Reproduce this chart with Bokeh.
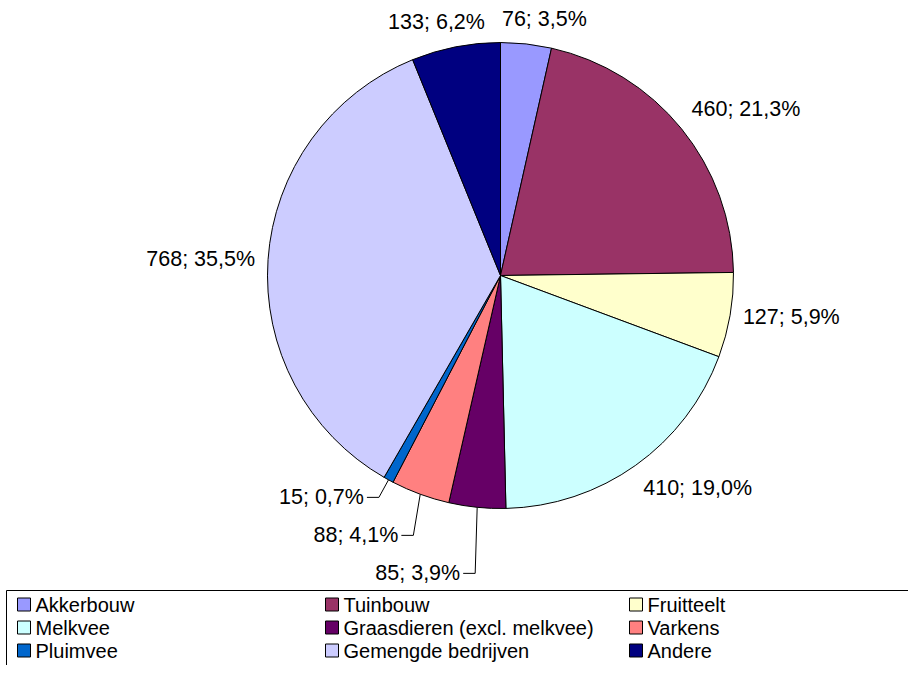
import math
from bokeh.plotting import figure
from bokeh.models import Range1d
from bokeh.core.properties import value
from bokeh.embed import file_html
from bokeh.resources import INLINE

# ---------------- data ----------------
categories = ["Akkerbouw", "Tuinbouw", "Fruitteelt", "Melkvee",
              "Graasdieren (excl. melkvee)", "Varkens", "Pluimvee",
              "Gemengde bedrijven", "Andere"]
counts = [76, 460, 127, 410, 85, 88, 15, 768, 133]
colors = ["#9999FF", "#993366", "#FFFFCC", "#CCFFFF", "#660066",
          "#FF8080", "#0066CC", "#CCCCFF", "#000080"]

# ---------------- layout ----------------
W, H = 908, 665
FONT = "Liberation Sans"
LABEL_SIZE = 21.5
LEGEND_SIZE = 20
CX, CY, R = 500, 275, 233          # pie centre / radius, canvas pixels


def Y(py):                          # canvas pixel (down) -> data y (up)
    return H - py


p = figure(width=W, height=H, x_range=Range1d(0, W), y_range=Range1d(0, H),
           output_backend="svg", toolbar_location=None, min_border=0,
           x_axis_location=None, y_axis_location=None)
p.xgrid.visible = False
p.ygrid.visible = False
p.outline_line_color = None
p.background_fill_color = "white"
p.border_fill_color = "white"

# ---------------- legend box (drawn first) ----------------
BOX_TOP = 590
p.quad(left=[6], right=[W + 60], top=[Y(BOX_TOP)], bottom=[Y(H + 60)],
       fill_color="white", line_color="black", line_width=1)

# ---------------- pie ----------------
total = float(sum(counts))
starts, ends, mids = [], [], []
cum = 0.0
for v in counts:
    f0 = cum / total
    f1 = (cum + v) / total
    starts.append(math.pi / 2 - 2 * math.pi * f0)
    ends.append(math.pi / 2 - 2 * math.pi * f1)
    mids.append(2 * math.pi * (f0 + f1) / 2)   # clockwise from top
    cum += v

p.wedge(x=[CX] * len(counts), y=[Y(CY)] * len(counts), radius=R,
        start_angle=starts, end_angle=ends, direction="clock",
        fill_color=colors, line_color="black", line_width=1)

# ---------------- data labels ----------------
char_w = {d: 0.556 for d in "0123456789"}
char_w.update({";": 0.278, " ": 0.278, ",": 0.278, "%": 0.889})


def text_width(s, size):
    return sum(char_w.get(ch, 0.556) for ch in s) * size


texts = []
for v in counts:
    pct = f"{100.0 * v / total:.1f}".replace(".", ",")
    texts.append(f"{v}; {pct}%")

labels = []
leader_group = []
for i, a in enumerate(mids):
    s, c = math.sin(a), math.cos(a)
    frac = counts[i] / total
    if frac < 0.05 and s < 0 and c < 0:
        leader_group.append(i)
        continue
    d = 13
    ax, ay = CX + (R + d) * s, CY - (R + d) * c
    align = "center" if abs(s) < 0.3 else ("left" if s > 0 else "right")
    base = "bottom" if c > 0.3 else ("top" if c < -0.3 else "middle")
    w = text_width(texts[i], LABEL_SIZE)
    h = LABEL_SIZE * 1.15
    left = ax - w / 2 if align == "center" else (ax if align == "left" else ax - w)
    top = ay - h if base == "bottom" else (ay if base == "top" else ay - h / 2)
    labels.append(dict(i=i, x=ax, y=ay, align=align, base=base,
                       l=left, r=left + w, t=top, b=top + h))

# simple horizontal collision resolution
GAP = 17
for a_ in range(len(labels)):
    for b_ in range(a_ + 1, len(labels)):
        A, B = labels[a_], labels[b_]
        if A["l"] < B["r"] + GAP and B["l"] < A["r"] + GAP and A["t"] < B["b"] and B["t"] < A["b"]:
            first, second = (A, B) if (A["l"] + A["r"]) < (B["l"] + B["r"]) else (B, A)
            push = (first["r"] - second["l"] + GAP) / 2
            for L, sgn in ((first, -1), (second, 1)):
                L["x"] += sgn * push
                L["l"] += sgn * push
                L["r"] += sgn * push

for L in labels:
    p.text(x=[L["x"]], y=[Y(L["y"])], text=[texts[L["i"]]],
           text_font=value(FONT), text_font_size=f"{LABEL_SIZE}px",
           text_align=L["align"], text_baseline=L["base"], text_color="black")

# small lower-left slices: stacked labels with leader lines
leader_group.sort(key=lambda k: -mids[k])
prev_y = None
for i in leader_group:
    a = mids[i]
    s, c = math.sin(a), math.cos(a)
    ex, ey = CX + R * s, CY - R * c
    ax, ay = CX + (R + 20) * s, CY - (R + 20) * c
    if prev_y is not None:
        ay = max(ay, prev_y + 38)
    prev_y = ay
    p.line(x=[ex, ax, ax - 12], y=[Y(ey), Y(ay), Y(ay)],
           line_color="black", line_width=1)
    p.text(x=[ax - 15], y=[Y(ay)], text=[texts[i]],
           text_font=value(FONT), text_font_size=f"{LABEL_SIZE}px",
           text_align="right", text_baseline="middle", text_color="black")

# ---------------- legend entries ----------------
ncol = 3
col_x = [17, 325, 629]
row_y0, row_dy = 604, 23
SQ = 13
for k, name in enumerate(categories):
    r_, c_ = divmod(k, ncol)
    x0 = col_x[c_]
    yc = row_y0 + r_ * row_dy
    p.quad(left=[x0], right=[x0 + SQ], top=[Y(yc - SQ / 2)], bottom=[Y(yc + SQ / 2)],
           fill_color=colors[k], line_color="black", line_width=1)
    p.text(x=[x0 + SQ + 5], y=[Y(yc)], text=[name],
           text_font=value(FONT), text_font_size=f"{LEGEND_SIZE}px",
           text_align="left", text_baseline="middle", text_color="black")

open("out.html", "w").write(file_html(p, INLINE))
